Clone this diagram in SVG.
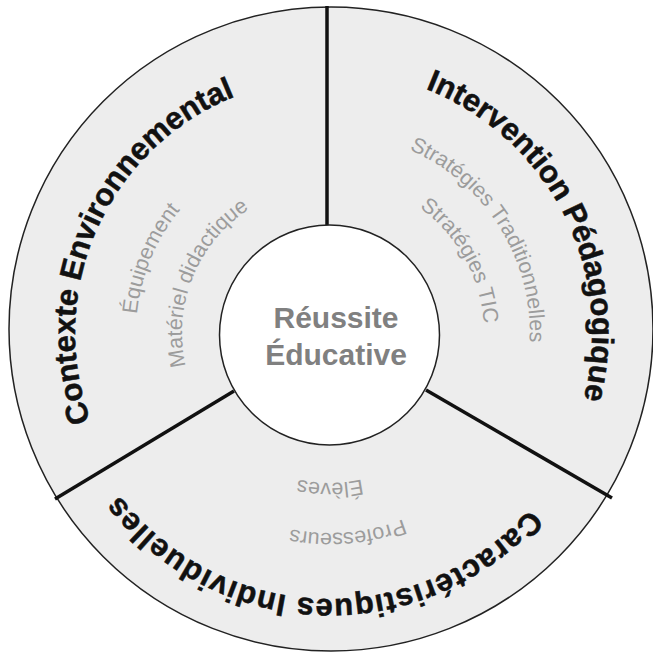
<svg xmlns="http://www.w3.org/2000/svg" xmlns:xlink="http://www.w3.org/1999/xlink" width="653" height="656" viewBox="0 0 653 656">
<style>
.bold{font-family:"Liberation Sans",Arial,sans-serif;font-weight:bold;font-size:31px;fill:#111;stroke:#111;stroke-width:0.5}
.sub{font-family:"Liberation Sans",Arial,sans-serif;font-size:21.5px;fill:#9c9c9c}
.ctr{font-family:"Liberation Sans",Arial,sans-serif;font-weight:bold;font-size:30px;fill:#808080}
.div{stroke:#111;stroke-width:3.5;fill:none;stroke-linecap:butt}
</style>
<defs>
<path id="pEnv" d="M187.4,544.4 A255,255 0 0 1 391.7,85.6"/>
<path id="pPed" d="M253.4,82.4 A262,262 0 0 1 487.7,542.2"/>
<path id="pCar" d="M590.2,388.3 A266,266 0 0 1 66.6,370.0"/>
<path id="pEqu" d="M225.8,496.6 A194,194 0 0 1 372.0,143.6"/>
<path id="pMat" d="M251.6,458.5 A148,148 0 0 1 360.8,188.2"/>
<path id="pTra" d="M255.1,147.6 A200,200 0 0 1 463.8,481.6"/>
<path id="pTic" d="M279.9,187.4 A154,154 0 0 1 426.9,452.7"/>
<path id="pEle" d="M477.7,359.0 A150,150 0 0 1 182.3,359.0"/>
<path id="pPro" d="M529.2,350.4 A200,200 0 0 1 136.8,384.8"/>
</defs>
<rect width="653" height="656" fill="#ffffff"/>
<circle id="outer" cx="331" cy="329" r="322" fill="#ededed" stroke="#222" stroke-width="1.5"/>
<g id="connectors">
<line class="div" x1="327" y1="6" x2="327" y2="226"/>
<line class="div" x1="234" y1="391" x2="55" y2="499"/>
<line class="div" x1="426" y1="390" x2="612" y2="498"/>
</g>
<g id="node-env">
<text class="bold"><textPath xlink:href="#pEnv" href="#pEnv" startOffset="50%" text-anchor="middle">Contexte Environnemental</textPath></text>
<text class="sub"><textPath xlink:href="#pEqu" href="#pEqu" startOffset="50%" text-anchor="middle">Équipement</textPath></text>
<text class="sub"><textPath xlink:href="#pMat" href="#pMat" startOffset="50%" text-anchor="middle">Matériel didactique</textPath></text>
</g>
<g id="node-ped">
<text class="bold"><textPath xlink:href="#pPed" href="#pPed" startOffset="50%" text-anchor="middle">Intervention Pédagogique</textPath></text>
<text class="sub"><textPath xlink:href="#pTra" href="#pTra" startOffset="50%" text-anchor="middle">Stratégies Traditionnelles</textPath></text>
<text class="sub"><textPath xlink:href="#pTic" href="#pTic" startOffset="50%" text-anchor="middle">Stratégies TIC</textPath></text>
</g>
<g id="node-car">
<text class="bold" letter-spacing="1"><textPath xlink:href="#pCar" href="#pCar" startOffset="50%" text-anchor="middle">Caractéristiques Individuelles</textPath></text>
<text class="sub"><textPath xlink:href="#pEle" href="#pEle" startOffset="50%" text-anchor="middle">Élèves</textPath></text>
<text class="sub"><textPath xlink:href="#pPro" href="#pPro" startOffset="50%" text-anchor="middle">Professeurs</textPath></text>
</g>
<g id="node-center">
<circle cx="329.5" cy="335" r="110" fill="#ffffff" stroke="#222" stroke-width="1.5"/>
<text class="ctr" x="336" y="328" text-anchor="middle">Réussite</text>
<text class="ctr" x="336" y="365" text-anchor="middle">Éducative</text>
</g>
</svg>
